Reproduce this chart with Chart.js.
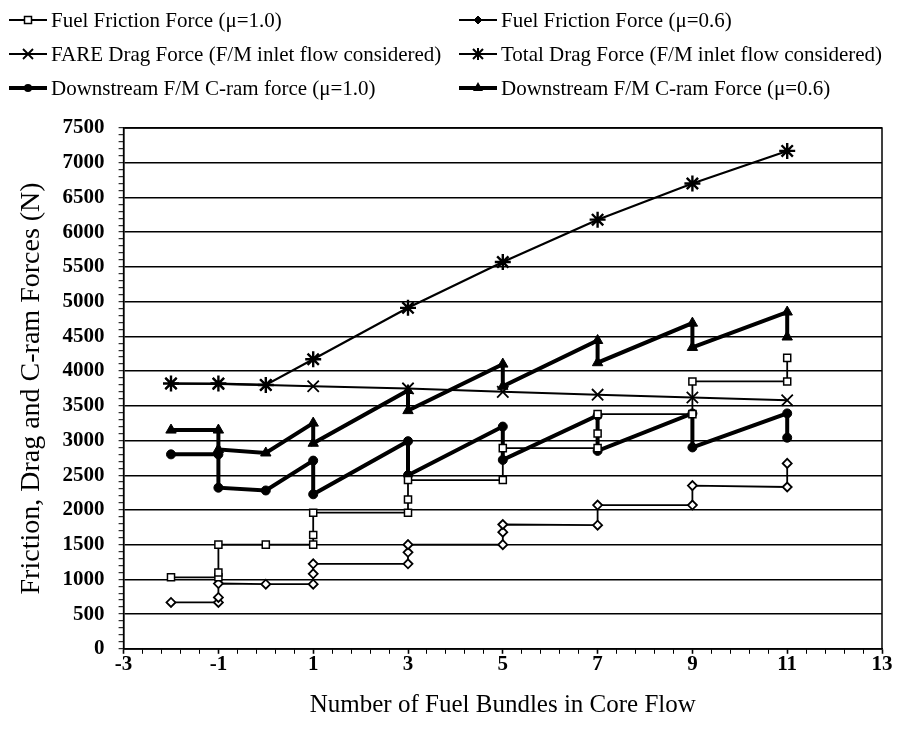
<!DOCTYPE html>
<html>
<head>
<meta charset="utf-8">
<script src="https://cdn.jsdelivr.net/npm/chart.js@4.4.0/dist/chart.umd.min.js"></script>
<style>
  body { margin: 0; background: #fff; }
  #wrap { position: relative; width: 899px; height: 729px; }
  #forceChart { position: absolute; left: 0; top: 0; }
  .item { position: absolute; display: flex; align-items: center; white-space: nowrap;
          font-family: 'Liberation Serif', 'Times New Roman', serif; font-size: 21px; color: #000; }
  .item svg { margin-right: 3px; }
</style>
</head>
<body>
<div id="wrap">
  <canvas id="forceChart" width="899" height="729"></canvas>
  <div id="legend"></div>
</div>
<script>
// x = number of fuel bundles in core flow, y = force (N)
const fric10X = [-2, -1, -1, -1, 0, 1, 1, 1, 3, 3, 3, 5, 5, 7, 7, 7, 9, 9, 11, 11];
const fric10Y = [1030, 1030, 1100, 1500, 1500, 1500, 1640, 1960, 1960, 2150, 2430, 2430, 2890, 2890, 3100, 3380, 3380, 3850, 3850, 4190];

const fric06X = [-2, -1, -1, -1, 0, 1, 1, 1, 3, 3, 3, 5, 5, 5, 7, 7, 9, 9, 11, 11];
const fric06Y = [668, 668, 740, 940, 930, 930, 1080, 1224, 1224, 1390, 1500, 1500, 1680, 1790, 1780, 2070, 2070, 2350, 2330, 2670];

const dragX = [-2, -1, 0, 1, 3, 5, 7, 9, 11];
const fareDragY = [3820, 3815, 3800, 3780, 3750, 3700, 3660, 3620, 3580];
const totalDragY = [3820, 3820, 3800, 4170, 4910, 5570, 6180, 6700, 7170];

const cramX = [-2, -1, -1, 0, 1, 1, 3, 3, 5, 5, 7, 7, 9, 9, 11, 11];
const cram10Y = [2800, 2800, 2320, 2280, 2710, 2225, 2990, 2500, 3200, 2720, 3360, 2850, 3390, 2900, 3390, 3040];
const cram06Y = [3150, 3150, 2870, 2820, 3250, 2960, 3720, 3430, 4100, 3780, 4440, 4120, 4690, 4340, 4850, 4490];

const xMajorTicks = [-3, -1, 1, 3, 5, 7, 9, 11, 13];
const yMajorTicks = [0, 500, 1000, 1500, 2000, 2500, 3000, 3500, 4000, 4500, 5000, 5500, 6000, 6500, 7000, 7500];

const labels = [
  'Fuel Friction Force (\u03bc=1.0)',
  'Fuel Friction Force (\u03bc=0.6)',
  'FARE Drag Force (F/M inlet flow considered)',
  'Total Drag Force (F/M inlet flow considered)',
  'Downstream F/M C-ram force (\u03bc=1.0)',
  'Downstream F/M C-ram Force (\u03bc=0.6)'
];

function pts(xs, ys) {
  return xs.map((x, i) => ({ x: x, y: ys[i] }));
}

// minor ticks between the major ones
function withMinor(majors, parts) {
  const out = [];
  for (let i = 0; i < majors.length; i++) {
    out.push({ value: majors[i], major: true });
    if (i < majors.length - 1) {
      const step = (majors[i + 1] - majors[i]) / parts;
      for (let k = 1; k < parts; k++) {
        out.push({ value: Math.round((majors[i] + k * step) * 1000) / 1000, major: false });
      }
    }
  }
  return out;
}

const serif = "'Liberation Serif', 'Times New Roman', serif";

const framePlugin = {
  id: 'frame',
  afterDraw(chart) {
    const a = chart.chartArea, c = chart.ctx;
    c.save();
    c.strokeStyle = '#000';
    c.lineWidth = 1.5;
    c.strokeRect(a.left, a.top, a.right - a.left, a.bottom - a.top);
    c.restore();
  }
};

const ctx = document.getElementById('forceChart').getContext('2d');
const forceChart = new Chart(ctx, {
  type: 'scatter',
  data: {
    datasets: [
      { label: labels[0], data: pts(fric10X, fric10Y), showLine: true, borderColor: '#000', borderWidth: 1.8,
        pointStyle: 'rect', pointRadius: 5, pointBackgroundColor: '#fff', pointBorderColor: '#000', pointBorderWidth: 1.5 },
      { label: labels[1], data: pts(fric06X, fric06Y), showLine: true, borderColor: '#000', borderWidth: 1.8,
        pointStyle: 'rectRot', pointRadius: 4.5, pointBackgroundColor: '#fff', pointBorderColor: '#000', pointBorderWidth: 1.8 },
      { label: labels[2], data: pts(dragX, fareDragY), showLine: true, borderColor: '#000', borderWidth: 2,
        pointStyle: 'crossRot', pointRadius: 8, pointBorderColor: '#000', pointBorderWidth: 1.8 },
      { label: labels[3], data: pts(dragX, totalDragY), showLine: true, borderColor: '#000', borderWidth: 2.2,
        pointStyle: 'star', pointRadius: 8, pointBorderColor: '#000', pointBorderWidth: 2.4 },
      { label: labels[4], data: pts(cramX, cram10Y), showLine: true, borderColor: '#000', borderWidth: 4,
        pointStyle: 'circle', pointRadius: 4.5, pointBackgroundColor: '#000', pointBorderColor: '#000', pointBorderWidth: 1 },
      { label: labels[5], data: pts(cramX, cram06Y), showLine: true, borderColor: '#000', borderWidth: 4,
        pointStyle: 'triangle', pointRadius: 6, pointBackgroundColor: '#000', pointBorderColor: '#000', pointBorderWidth: 1 }
    ]
  },
  options: {
    responsive: false,
    animation: false,
    layout: { padding: { top: 128, left: 15, right: 17, bottom: 9 } },
    plugins: {
      legend: { display: false },
      tooltip: { enabled: false }
    },
    scales: {
      x: {
        type: 'linear',
        min: -3,
        max: 13,
        afterBuildTicks: (axis) => { axis.ticks = withMinor(xMajorTicks, 5); },
        ticks: {
          autoSkip: false,
          maxRotation: 0,
          padding: -2,
          color: '#000',
          font: { family: serif, size: 21, weight: 'bold' },
          callback: (v) => xMajorTicks.includes(v) ? String(v) : ''
        },
        grid: {
          drawOnChartArea: false,
          tickLength: 5,
          tickColor: '#000',
          tickWidth: (c) => (c.tick && c.tick.major) ? 1.6 : 1
        },
        border: { color: '#000', width: 1.5 },
        title: {
          display: true,
          text: 'Number of Fuel Bundles in Core Flow',
          color: '#000',
          font: { family: serif, size: 25 },
          padding: { top: 15, bottom: 0 }
        }
      },
      y: {
        min: 0,
        max: 7500,
        afterBuildTicks: (axis) => { axis.ticks = withMinor(yMajorTicks, 5); },
        ticks: {
          autoSkip: false,
          padding: 14,
          color: '#000',
          font: { family: serif, size: 21, weight: 'bold' },
          callback: (v) => yMajorTicks.includes(v) ? String(v) : ''
        },
        grid: {
          color: (c) => (c.tick && yMajorTicks.includes(c.tick.value)) ? '#000' : 'rgba(0,0,0,0)',
          lineWidth: 1.4,
          tickLength: 5,
          tickColor: '#000',
          tickWidth: 1
        },
        border: { color: '#000', width: 1.5 },
        title: {
          display: true,
          text: 'Friction, Drag and C-ram Forces (N)',
          color: '#000',
          font: { family: serif, size: 28 },
          padding: { top: 0, bottom: 0 }
        }
      }
    }
  },
  plugins: [framePlugin]
});

// legend laid out in two columns like the original
const legendPos = [
  [8, 20], [458, 20],
  [8, 54], [458, 54],
  [8, 88], [458, 88]
];

function symbolSvg(i) {
  const ds = forceChart.data.datasets[i];
  const w = ds.borderWidth;
  let m = '';
  if (i === 0) m = '<rect x="16.5" y="4.5" width="7" height="7" fill="#fff" stroke="#000" stroke-width="1.5"/>';
  if (i === 1) m = '<polygon points="20,4 24,8 20,12 16,8" fill="#000" stroke="#000" stroke-width="1"/>';
  if (i === 2) m = '<path d="M15,3 L25,13 M25,3 L15,13" stroke="#000" stroke-width="1.8"/>';
  if (i === 3) m = '<path d="M15,3 L25,13 M25,3 L15,13 M20,2 L20,14 M14,8 L26,8" stroke="#000" stroke-width="2"/>';
  if (i === 4) m = '<circle cx="20" cy="8" r="4" fill="#000"/>';
  if (i === 5) m = '<polygon points="20,2 25,11 15,11" fill="#000"/>';
  return '<svg width="40" height="16" viewBox="0 0 40 16"><line x1="1" y1="8" x2="39" y2="8" stroke="#000" stroke-width="' + w + '"/>' + m + '</svg>';
}

const legendEl = document.getElementById('legend');
labels.forEach((text, i) => {
  const d = document.createElement('div');
  d.className = 'item';
  d.style.left = legendPos[i][0] + 'px';
  d.style.top = (legendPos[i][1] - 12) + 'px';
  d.style.height = '24px';
  d.innerHTML = symbolSvg(i) + '<span>' + text + '</span>';
  legendEl.appendChild(d);
});
</script>
</body>
</html>
